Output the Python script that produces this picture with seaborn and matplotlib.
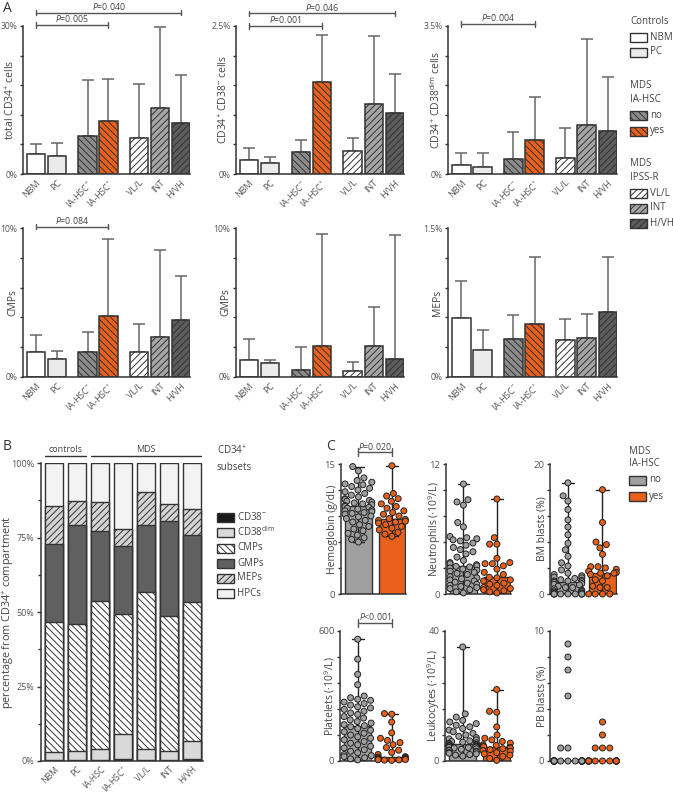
import warnings
import numpy as np
import pandas as pd
import seaborn as sns
import matplotlib.pyplot as plt
import matplotlib.transforms as mtransforms
from matplotlib.patches import Rectangle

warnings.filterwarnings("ignore")

# ---------------- data ----------------
# panel A: bar = mean, whisker top = mean + SD (in % of cells)
groups = ["NBM", "PC", "IA-HSC$^{-}$", "IA-HSC$^{+}$", "VL/L", "INT", "H/VH"]
group_pos = [0, 1, 2.45, 3.45, 4.9, 5.9, 6.9]

cd34_mean = [4.1, 3.6, 7.7, 10.7, 7.2, 13.4, 10.4]
cd34_top = [6.1, 6.3, 19.0, 19.2, 18.2, 29.8, 20.1]
cd38neg_mean = [0.23, 0.18, 0.38, 1.56, 0.39, 1.19, 1.03]
cd38neg_top = [0.44, 0.29, 0.57, 2.34, 0.61, 2.33, 1.69]
cd38dim_mean = [0.21, 0.16, 0.35, 0.80, 0.37, 1.17, 1.02]
cd38dim_top = [0.50, 0.50, 0.99, 1.83, 1.08, 3.20, 2.29]
cmp_mean = [1.71, 1.24, 1.69, 4.11, 1.71, 2.67, 3.80]
cmp_top = [2.81, 1.75, 3.01, 9.26, 3.53, 8.49, 6.81]
gmp_mean = [1.17, 0.94, 0.49, 2.07, 0.43, 2.09, 1.21]
gmp_top = [2.54, 1.15, 2.02, 9.60, 0.99, 4.67, 9.53]
mep_mean = [0.59, 0.27, 0.38, 0.53, 0.37, 0.39, 0.65]
mep_top = [0.97, 0.47, 0.62, 1.21, 0.58, 0.63, 1.21]

# panel B: composition of the CD34+ compartment (%)
b_groups = ["NBM", "PC", "IA-HSC", "IA-HSC$^{+}$", "VL/L", "INT", "H/VH"]
subset_names = ["CD38$^{-}$", "CD38$^{\\mathrm{dim}}$", "CMPs", "GMPs", "MEPs", "HPCs"]
sub_cd38neg = [0.2, 0.2, 0.2, 0.8, 0.2, 0.2, 0.7]
sub_cd38dim = [2.7, 3.1, 3.7, 8.3, 3.7, 3.1, 6.0]
sub_cmp = [43.7, 42.7, 49.7, 40.2, 52.8, 45.5, 46.6]
sub_gmp = [26.3, 33.2, 23.5, 22.8, 22.4, 31.8, 22.7]
sub_mep = [12.6, 8.1, 9.8, 5.6, 11.2, 5.7, 8.4]
sub_hpc = [14.5, 12.7, 13.1, 22.3, 9.7, 13.7, 15.6]

# panel C: clinical parameters of MDS patients by IA-HSC status
hb_no = [14.7, 14.2, 13.4, 13.1, 12.9, 12.7, 12.6, 12.4, 12.2, 12.0, 11.8, 11.6,
         11.4, 11.2, 11.0, 10.9, 10.8, 10.7, 10.6, 10.5, 10.4, 10.3, 10.2, 10.1,
         10.0, 9.9, 9.8, 9.7, 9.6, 9.5, 9.4, 9.3, 9.2, 9.0, 8.9, 8.7, 8.5, 8.3,
         8.0, 7.8, 7.5, 7.3, 7.0, 6.8, 6.5, 6.3, 6.0]
hb_yes = [14.8, 11.6, 11.3, 11.0, 10.7, 10.4, 10.1, 9.9, 9.6, 9.4, 9.2, 9.0, 8.7,
          8.6, 8.5, 8.4, 8.3, 8.2, 8.0, 7.8, 7.6, 7.4, 7.1, 6.9, 6.65]
neu_no = [10.15, 8.7, 8.5, 8.2, 6.6, 6.2, 5.3, 5.2, 5.1, 5.0, 4.9, 4.7, 4.5, 4.3,
          4.1, 3.9, 3.7, 3.4, 3.1, 2.9, 2.8, 2.7, 2.6, 2.55, 2.5, 2.4, 2.3, 2.2,
          2.1, 2.0, 1.9, 1.8, 1.6, 1.5, 1.4, 1.3, 1.2, 1.1, 1.0, 0.9, 0.8, 0.7,
          0.6, 0.5, 0.4, 0.2, 0.1]
neu_yes = [8.77, 5.2, 4.6, 4.6, 3.3, 2.9, 2.8, 2.8, 2.6, 2.3, 2.0, 1.8, 1.54, 1.5,
           1.3, 1.2, 1.0, 0.9, 0.8, 0.6, 0.5, 0.4, 0.3, 0.2, 0.1]
bmb_no = [17.1, 15.1, 14.3, 13.0, 11.4, 10.3, 9.1, 7.8, 6.8, 5.8, 4.8, 4.3, 3.7,
          3.2, 3.0, 2.8, 2.6, 2.5, 2.4, 2.2, 2.1, 2.0, 2.0, 1.9, 1.8, 1.6, 1.5,
          1.4, 1.2, 1.0, 1.0, 0.8, 0.6, 0.5, 0.4, 0.3, 0.2, 0.1, 0, 0, 0, 0, 0,
          0, 0, 0, 0]
bmb_yes = [16.05, 11.0, 8.0, 7.6, 7.1, 6.1, 4.2, 4.2, 4.0, 3.8, 3.5, 3.3, 3.2, 3.2,
           3.0, 2.8, 2.2, 2.0, 1.2, 1.0, 1.0, 0, 0, 0, 0]
plt_no = [562, 470, 400, 352, 300, 292, 285, 280, 272, 265, 258, 250, 245, 238,
          230, 222, 215, 205, 198, 190, 182, 175, 168, 163, 158, 150, 142, 135,
          128, 120, 112, 105, 98, 90, 82, 75, 68, 60, 52, 45, 38, 30, 25, 20, 15,
          10, 5]
plt_yes = [219, 216, 180, 130, 105, 95, 85, 75, 62, 50, 40, 30, 20, 18, 16, 14,
           12, 10, 9, 8, 7, 6, 5, 4, 3]
leu_no = [35.1, 14.5, 13.5, 12.5, 12.0, 11.5, 11.0, 10.5, 10.0, 9.5, 9.0, 8.5,
          8.0, 7.6, 7.2, 6.8, 6.5, 6.2, 6.0, 5.8, 5.6, 5.4, 5.2, 5.1, 5.0, 4.9,
          4.8, 4.7, 4.6, 4.5, 4.4, 4.3, 4.2, 4.1, 4.0, 3.8, 3.6, 3.4, 3.2, 3.0,
          2.8, 2.6, 2.4, 2.2, 2.0, 1.8, 1.5]
leu_yes = [22.0, 15.3, 15.0, 10.5, 8.0, 7.0, 6.5, 6.0, 5.5, 5.0, 4.8, 4.6, 4.4,
           4.2, 4.0, 3.8, 3.5, 3.2, 3.0, 2.6, 2.2, 1.8, 1.4, 0.8, 0.2]
pbb_no = [9.0, 8.0, 7.0, 5.0, 1.0, 1.0] + [0] * 35
pbb_yes = [3.0, 2.0, 1.0, 1.0, 1.0] + [0] * 17

# ---------------- style ----------------
sns.set_theme(style="ticks")
plt.rcParams["font.family"] = ["Open Sans", "DejaVu Sans"]
plt.rcParams.update({
    "mathtext.fontset": "custom",
    "mathtext.rm": "Open Sans",
    "mathtext.it": "Open Sans:italic",
    "mathtext.bf": "Open Sans:bold",
    "hatch.linewidth": 0.7,
    "axes.edgecolor": "#333333",
    "axes.linewidth": 1.1,
    "xtick.color": "#333333",
    "ytick.color": "#333333",
    "xtick.labelcolor": "#555555",
    "ytick.labelcolor": "#555555",
    "axes.labelcolor": "#444444",
})

EDGE = "#333333"
ORANGE = "#e8601c"
a_face = ["white", "#ebebeb", "#8c8c8c", ORANGE, "white", "#a6a6a6", "#5c5c5c"]
a_hatch = [None, None, "\\\\\\\\\\", "\\\\\\\\\\", "/////", "/////", "/////"]

fig = plt.figure(figsize=(6.73, 7.94), dpi=100)


def px_axes(x0, y0, x1, y1):
    return fig.add_axes([x0 / 673, 1 - y1 / 794, (x1 - x0) / 673, (y1 - y0) / 794])


def style_y(ax, ymax, top_label, fs=6.2, n_minor=5, pct=True):
    ax.set_ylim(0, ymax)
    ax.set_yticks([0, ymax])
    ax.set_yticklabels(["0%" if pct else "0", top_label], fontsize=fs)
    ax.set_yticks(np.linspace(0, ymax, n_minor + 1), minor=True)
    ax.tick_params(axis="y", which="major", length=2.5, width=1, pad=1.5)
    ax.tick_params(axis="y", which="minor", length=2, width=1)
    sns.despine(ax=ax)


def bracket(ax, x0, x1, yfrac, text, tick=0.018):
    tr = mtransforms.blended_transform_factory(ax.transData, ax.transAxes)
    ax.plot([x0, x0], [yfrac - tick, yfrac + tick], transform=tr, clip_on=False, color="#555", lw=1)
    ax.plot([x1, x1], [yfrac - tick, yfrac + tick], transform=tr, clip_on=False, color="#555", lw=1)
    ax.plot([x0, x1], [yfrac, yfrac], transform=tr, clip_on=False, color="#555", lw=1)
    ax.text((x0 + x1) / 2, yfrac + 0.006, text, transform=tr, ha="center", va="bottom",
            fontsize=6.3, color="#444")


# ---------------- panel A ----------------
a_panels = [
    (cd34_mean, cd34_top, 30, "30%", "total CD34$^{+}$ cells", (23, 26, 190, 174)),
    (cd38neg_mean, cd38neg_top, 2.5, "2.5%", "CD34$^{+}$ CD38$^{-}$ cells", (236, 26, 404, 174)),
    (cd38dim_mean, cd38dim_top, 3.5, "3.5%", "CD34$^{+}$ CD38$^{\\mathrm{dim}}$ cells", (448, 26, 617, 174)),
    (cmp_mean, cmp_top, 10, "10%", "CMPs", (23, 228, 190, 377)),
    (gmp_mean, gmp_top, 10, "10%", "GMPs", (236, 228, 404, 377)),
    (mep_mean, mep_top, 1.5, "1.5%", "MEPs", (448, 228, 617, 377)),
]
a_brackets = [(0, 0, 6, 1.09, "$P$=0.040"), (0, 0, 3, 1.007, "$P$=0.005"),
              (1, 0, 6, 1.085, "$P$=0.046"), (1, 0, 3, 1.0, "$P$=0.001"),
              (2, 0, 3, 1.014, "$P$=0.004"), (3, 0, 3, 1.01, "$P$=0.084")]

a_axes = []
for mean, top, ymax, toplab, ylab, box in a_panels:
    ax = px_axes(*box)
    sns.barplot(x=group_pos, y=mean, native_scale=True, width=0.87, color="white",
                edgecolor=EDGE, linewidth=1.1, errorbar=None, ax=ax, zorder=2)
    for patch, fc, h in zip(ax.patches, a_face, a_hatch):
        patch.set_facecolor(fc)
        if h:
            patch.set_hatch(h)
    up = np.array(top) - np.array(mean)
    ax.errorbar(group_pos, mean, yerr=[np.zeros(len(mean)), up], fmt="none",
                ecolor="#666666", elinewidth=1.1, capsize=4, capthick=1.1, zorder=1)
    ax.set_xlim(-0.625, 7.335)
    style_y(ax, ymax, toplab)
    ax.set_xticks(group_pos)
    ax.set_xticklabels(groups, rotation=45, ha="right", rotation_mode="anchor", fontsize=6.5)
    ax.tick_params(axis="x", length=0, pad=3)
    ax.set_xlabel("")
    ax.set_ylabel(ylab, fontsize=7.5)
    ax.yaxis.set_label_coords(-5 / (box[2] - box[0]), 0.5)
    a_axes.append(ax)

for i, g0, g1, yf, txt in a_brackets:
    bracket(a_axes[i], group_pos[g0], group_pos[g1], yf, txt)

# ---------------- panel B ----------------
axb = px_axes(41, 463, 203, 761)
segments = np.array([sub_cd38neg, sub_cd38dim, sub_cmp, sub_gmp, sub_mep, sub_hpc])
cum = np.cumsum(segments, axis=0)
b_face = ["#1a1a1a", "#d9d9d9", "white", "#606060", "#d4d4d4", "#f3f3f3"]
b_hatch = [None, None, "\\\\\\\\\\", None, "/////", None]
for k in reversed(range(len(subset_names))):
    n0 = len(axb.patches)
    sns.barplot(x=b_groups, y=cum[k], color=b_face[k], width=0.8, edgecolor=EDGE,
                linewidth=1.0, errorbar=None, ax=axb, saturation=1)
    for patch in axb.patches[n0:]:
        patch.set_facecolor(b_face[k])
        if b_hatch[k]:
            patch.set_hatch(b_hatch[k])
axb.set_xlim(-0.57, 6.47)
axb.set_ylim(0, 100)
axb.set_yticks([0, 25, 50, 75, 100])
axb.set_yticklabels(["0%", "25%", "50%", "75%", "100%"], fontsize=6.5)
axb.set_yticks(np.arange(0, 101, 12.5), minor=True)
axb.tick_params(axis="y", which="major", length=3, width=1, pad=2)
axb.tick_params(axis="y", which="minor", length=2, width=1)
axb.set_xticks(range(len(b_groups)))
axb.set_xticklabels(b_groups, rotation=45, ha="right", rotation_mode="anchor", fontsize=6.2)
axb.tick_params(axis="x", length=0, pad=2.5)
axb.set_ylabel("percentage from CD34$^{+}$ compartment", fontsize=7.8)
axb.yaxis.set_label_coords(-24 / 162, 0.5)
axb.set_xlabel("")
sns.despine(ax=axb)
trb = mtransforms.blended_transform_factory(axb.transData, axb.transAxes)
for x0, x1, lab in [(-0.4, 1.4, "controls"), (1.6, 6.4, "MDS")]:
    axb.plot([x0, x1], [1.023, 1.023], transform=trb, clip_on=False, color="#333", lw=1)
    axb.text((x0 + x1) / 2, 1.03, lab, transform=trb, ha="center", va="bottom", fontsize=6.5, color="#444")

# ---------------- panel C ----------------
c_order = ["no", "yes"]
c_bar_pal = {"no": "#a0a0a0", "yes": ORANGE}
c_panels = [
    (hb_no, hb_yes, 15, "15", "Hemoglobin (g/dL)", (341, 464, 406, 594), True),
    (neu_no, neu_yes, 12, "12", "Neutrophils (·10$^{9}$/L)", (446, 464, 511, 594), True),
    (bmb_no, bmb_yes, 20, "20", "BM blasts (%)", (550, 464, 617, 594), True),
    (plt_no, plt_yes, 600, "600", "Platelets (·10$^{9}$/L)", (340, 631, 406, 761), True),
    (leu_no, leu_yes, 40, "40", "Leukocytes (·10$^{9}$/L)", (445, 631, 511, 761), True),
    (pbb_no, pbb_yes, 10, "10", "PB blasts (%)", (550, 631, 617, 761), False),
]
c_brackets = [(0, 1.09, "$P$=0.020"), (3, 1.06, "$P$<0.001")]

c_axes = []
for v_no, v_yes, ymax, toplab, ylab, box, whisk in c_panels:
    ax = px_axes(*box)
    df = pd.DataFrame({"grp": ["no"] * len(v_no) + ["yes"] * len(v_yes),
                       "val": list(v_no) + list(v_yes)})
    sns.barplot(data=df, x="grp", y="val", hue="grp", order=c_order, hue_order=c_order,
                palette=c_bar_pal, estimator="median",
                errorbar=("pi", 100) if whisk else None, capsize=0.35,
                err_kws={"color": "#222222", "linewidth": 1.0}, width=0.8,
                edgecolor=EDGE, linewidth=1.0, legend=False, saturation=1, ax=ax)
    sns.swarmplot(data=df, x="grp", y="val", hue="grp", order=c_order, hue_order=c_order,
                  palette=c_bar_pal, size=4.3, edgecolor="#222222", linewidth=0.7,
                  legend=False, ax=ax)
    for coll in ax.collections:
        coll.set_zorder(3)
        coll.set_clip_on(False)
    ax.set_xlim(-0.52, 1.42)
    style_y(ax, ymax, toplab, fs=6.8, pct=False)
    ax.set_xticks([])
    ax.set_xlabel("")
    ax.set_ylabel(ylab, fontsize=7.5)
    ax.yaxis.set_label_coords(-3 / (box[2] - box[0]), 0.5)
    c_axes.append(ax)

for i, yf, txt in c_brackets:
    bracket(c_axes[i], 0, 1, yf, txt, tick=0.03)

# ---------------- legends & panel letters ----------------
lax = fig.add_axes([0, 0, 1, 1])
lax.set_xlim(0, 673)
lax.set_ylim(794, 0)
lax.axis("off")


def leg_box(x, y, fc, hatch, label, w=17, h=9):
    lax.add_patch(Rectangle((x, y - h / 2), w, h, facecolor=fc, edgecolor=EDGE, lw=1.0, hatch=hatch))
    lax.text(x + w + 3, y, label, ha="left", va="center", fontsize=7, color="#444")


def leg_title(x, y, label):
    lax.text(x, y, label, ha="left", va="center", fontsize=7, color="#444")


leg_title(630, 21, "Controls")
leg_box(630, 37, a_face[0], None, "NBM")
leg_box(630, 52, a_face[1], None, "PC")
leg_title(630, 86, "MDS")
leg_title(630, 99, "IA-HSC")
leg_box(630, 115, a_face[2], a_hatch[2], "no")
leg_box(630, 131, a_face[3], a_hatch[3], "yes")
leg_title(630, 164, "MDS")
leg_title(630, 177, "IPSS-R")
leg_box(630, 193, a_face[4], a_hatch[4], "VL/L")
leg_box(630, 208, a_face[5], a_hatch[5], "INT")
leg_box(630, 223, a_face[6], a_hatch[6], "H/VH")

leg_title(217, 451, "CD34$^{+}$")
leg_title(217, 467, "subsets")
for k, yy in enumerate([517, 532, 548, 563, 578, 593]):
    leg_box(217, yy, b_face[k], b_hatch[k], subset_names[k])

leg_title(629, 452, "MDS")
leg_title(629, 464, "IA-HSC")
leg_box(629, 480, c_bar_pal["no"], None, "no")
leg_box(629, 496, c_bar_pal["yes"], None, "yes")

lax.text(3, 8, "A", ha="left", va="center", fontsize=10, color="#333")
lax.text(3, 447, "B", ha="left", va="center", fontsize=10, color="#333")
lax.text(326, 447, "C", ha="left", va="center", fontsize=10, color="#333")

fig.savefig("out.png", dpi=100)
